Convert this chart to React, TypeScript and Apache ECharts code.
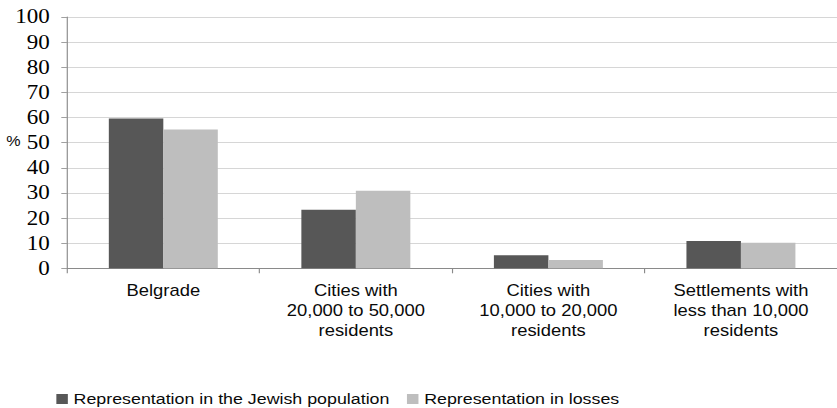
import { useEffect, useRef } from "react";
import * as echarts from "echarts";

// Categories of settlement size and the two shares (%) per category
const categories = [
  "Belgrade",
  "Cities with\n20,000 to 50,000\nresidents",
  "Cities with\n10,000 to 20,000\nresidents",
  "Settlements with\nless than 10,000\nresidents",
];
const seriesNames = [
  "Representation in the Jewish population",
  "Representation in losses",
];
const jewishPopulation = [59.6, 23.3, 5.2, 10.9];
const losses = [55.2, 30.9, 3.3, 10.2];
const yMin = 0;
const yMax = 100;
const yStep = 10;

// The chart is laid out in a narrower box and widened horizontally
const STRETCH = 1.15;
const OUT_W = 837;
const OUT_H = 408;
const INNER_W = OUT_W / STRETCH;

const SANS = "Liberation Sans";
const SERIF = "Liberation Serif";

export default function App() {
  const ref = useRef<HTMLDivElement>(null);

  useEffect(() => {
    if (!ref.current) return;
    const chart = echarts.init(ref.current, undefined, { renderer: "svg" });
    const gridLeft = 58.3;
    const catWidth = 169.1;
    chart.setOption({
      animation: false,
      backgroundColor: "#ffffff",
      textStyle: { fontFamily: SANS },
      grid: {
        left: gridLeft,
        top: 17,
        width: catWidth * categories.length,
        height: 251.3,
        containLabel: false,
      },
      legend: {
        left: 49,
        top: 391,
        padding: 0,
        itemWidth: 10,
        itemHeight: 10,
        itemGap: 15,
        icon: "rect",
        textStyle: {
          fontFamily: SANS,
          fontSize: 15.5,
          lineHeight: 16,
          color: "#0a0a0a",
        },
        data: seriesNames,
      },
      xAxis: {
        type: "category",
        data: categories,
        boundaryGap: true,
        axisLine: { show: true, lineStyle: { color: "#8a8a8a", width: 1 } },
        axisTick: {
          show: true,
          length: 5,
          lineStyle: { color: "#8a8a8a", width: 1 },
        },
        axisLabel: {
          interval: 0,
          margin: 12,
          fontFamily: SANS,
          fontSize: 16,
          lineHeight: 20,
          color: "#0a0a0a",
          align: "center",
        },
        splitLine: { show: false },
      },
      yAxis: {
        type: "value",
        min: yMin,
        max: yMax,
        interval: yStep,
        axisLine: { show: true, lineStyle: { color: "#8a8a8a", width: 1 } },
        axisTick: {
          show: true,
          length: 5,
          lineStyle: { color: "#a0a0a0", width: 1 },
        },
        axisLabel: {
          margin: 15,
          formatter: "{t|{value}}",
          rich: {
            t: {
              fontFamily: SERIF,
              fontSize: 20,
              color: "#000000",
            },
          },
        },
        splitLine: { show: true, lineStyle: { color: "#d6d6d6", width: 1 } },
      },
      graphic: [
        {
          type: "text",
          left: 5.5,
          top: 134,
          style: {
            text: "%",
            font: `14px ${SANS}`,
            fill: "#0a0a0a",
          },
        },
      ],
      series: [
        {
          name: seriesNames[0],
          type: "bar",
          data: jewishPopulation,
          barWidth: "28.3%",
          barGap: "0%",
          itemStyle: { color: "#575757" },
        },
        {
          name: seriesNames[1],
          type: "bar",
          data: losses,
          barWidth: "28.3%",
          barGap: "0%",
          itemStyle: { color: "#bebebe" },
        },
      ],
    });
    return () => chart.dispose();
  }, []);

  return (
    <div
      style={{
        position: "fixed",
        left: 0,
        top: 0,
        width: OUT_W,
        height: OUT_H,
        overflow: "hidden",
        background: "#ffffff",
      }}
    >
      <div
        ref={ref}
        style={{
          width: INNER_W,
          height: OUT_H,
          transform: `scaleX(${STRETCH})`,
          transformOrigin: "0 0",
        }}
      />
    </div>
  );
}
